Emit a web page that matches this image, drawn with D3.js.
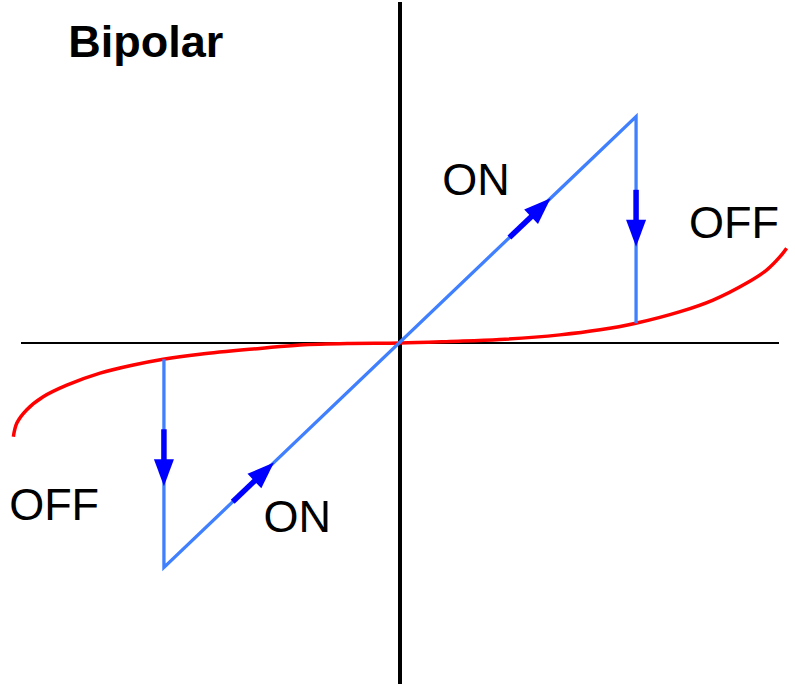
<!DOCTYPE html>
<html><head><meta charset="utf-8">
<script src="https://cdn.jsdelivr.net/npm/d3@7"></script>
<style>html,body{margin:0;padding:0;background:#fff;}svg{display:block;}</style>
</head><body>
<script>
// Data in normalized units (origin at axis crossing)
const onPath = [[-0.61, -0.042], [-0.61, -0.58], [0.61, 0.585], [0.61, 0.051]];
const offCurve = [
  [-0.999, -0.242], [-0.990, -0.207], [-0.965, -0.173], [-0.922, -0.139],
  [-0.861, -0.109], [-0.775, -0.078], [-0.689, -0.057], [-0.612, -0.042],
  [-0.517, -0.029], [-0.362, -0.014], [-0.258, -0.005], [-0.129, -0.001],
  [0, 0], [0.129, 0.004], [0.258, 0.009], [0.413, 0.021], [0.517, 0.034],
  [0.609, 0.051], [0.724, 0.081], [0.809, 0.111], [0.896, 0.155],
  [0.948, 0.189], [0.982, 0.223], [0.999, 0.245]
];
// arrows along the ON/OFF path: segment and fractional tip position
const arrows = [
  {from: [0.61, 0.585], to: [0.61, 0.051], t: 0.63},
  {from: [-0.61, -0.042], to: [-0.61, -0.58], t: 0.61},
  {from: [-0.61, -0.58], to: [0.61, 0.585], t: 0.819},
  {from: [-0.61, -0.58], to: [0.61, 0.585], t: 0.233}
];
const labels = [
  {text: "Bipolar", x: -0.857, y: 0.738, bold: true},
  {text: "ON", x: 0.109, y: 0.382},
  {text: "OFF", x: 0.747, y: 0.271},
  {text: "ON", x: -0.353, y: -0.488},
  {text: "OFF", x: -1.010, y: -0.457}
];

const W = 795, H = 686;
const svg = d3.select("body").append("svg").attr("width", W).attr("height", H);
const x = d3.scaleLinear().domain([-1, 1]).range([13, 787]);
const y = d3.scaleLinear().domain([-1, 1]).range([730, -44]);

// axes
svg.append("line").attr("x1", 21).attr("x2", 779).attr("y1", y(0)).attr("y2", y(0))
  .attr("stroke", "#000").attr("stroke-width", 2);
svg.append("line").attr("x1", x(0)).attr("x2", x(0)).attr("y1", 2).attr("y2", 684)
  .attr("stroke", "#000").attr("stroke-width", 4);

const line = d3.line().x(d => x(d[0])).y(d => y(d[1]));
svg.append("path").attr("d", line.curve(d3.curveCatmullRom.alpha(0.5))(offCurve))
  .attr("fill", "none").attr("stroke", "#ff0000").attr("stroke-width", 3.5);
svg.append("path").attr("d", d3.line().x(d => x(d[0])).y(d => y(d[1]))(onPath))
  .attr("fill", "none").attr("stroke", "#4080ff").attr("stroke-width", 3.3)
  .attr("stroke-linejoin", "miter");

arrows.forEach(a => {
  const x0 = x(a.from[0]), y0 = y(a.from[1]), x1 = x(a.to[0]), y1 = y(a.to[1]);
  const len = Math.hypot(x1 - x0, y1 - y0);
  const ux = (x1 - x0) / len, uy = (y1 - y0) / len;
  const tx = x0 + (x1 - x0) * a.t, ty = y0 + (y1 - y0) * a.t;
  const headL = 27, headW = 10, shaft = 30;
  const bx = tx - ux * headL, by = ty - uy * headL;
  svg.append("line").attr("x1", bx - ux * shaft).attr("y1", by - uy * shaft)
    .attr("x2", bx + ux * 2).attr("y2", by + uy * 2)
    .attr("stroke", "#0000ff").attr("stroke-width", 5.5);
  svg.append("path")
    .attr("d", `M${tx},${ty}L${bx - uy * headW},${by + ux * headW}L${bx + uy * headW},${by - ux * headW}Z`)
    .attr("fill", "#0000ff");
});

svg.selectAll("text.lbl").data(labels).enter().append("text")
  .attr("x", d => x(d.x)).attr("y", d => y(d.y))
  .attr("font-family", "Liberation Sans, Arial, sans-serif")
  .attr("font-size", 45)
  .attr("font-weight", d => d.bold ? "bold" : "normal")
  .attr("fill", "#000")
  .text(d => d.text);
</script>
</body></html>
